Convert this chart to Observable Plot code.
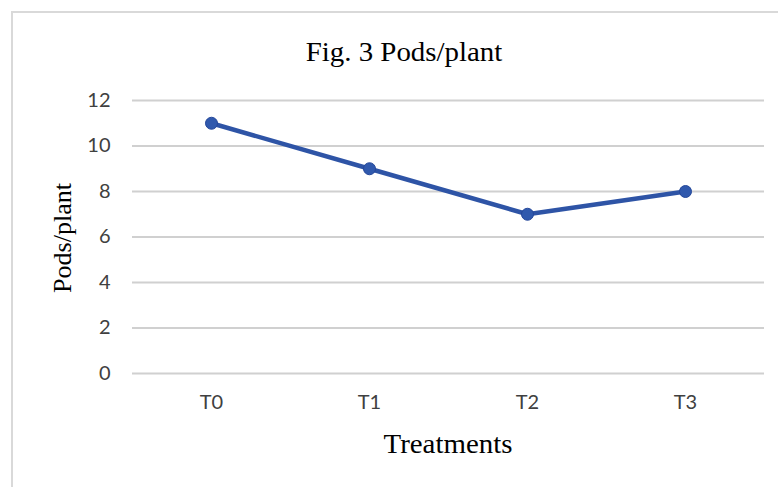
<!DOCTYPE html>
<html>
<head>
<meta charset="utf-8">
<script src="https://cdn.jsdelivr.net/npm/d3@7"></script>
<script src="https://cdn.jsdelivr.net/npm/@observablehq/plot@0.6"></script>
<style>
  html, body { margin: 0; padding: 0; background: #fff; overflow: hidden; }
  #wrap { position: relative; width: 778px; height: 487px; overflow: hidden; }
  #frame { position: absolute; left: 11px; top: 11px; width: 820px; height: 520px; border: 2px solid #d9d9d9; box-sizing: border-box; }
  .lbl { position: absolute; font-family: "Liberation Serif", "Times New Roman", serif; color: #000; white-space: nowrap; line-height: 1; }
  #title { left: 404px; top: 52px; font-size: 27px; transform: translate(-50%, -50%) scaleX(1.07); }
  #xlab { left: 448px; top: 444px; font-size: 27px; transform: translate(-50%, -50%) scaleX(1.07); }
  #ylab { left: 63px; top: 238px; font-size: 26px; transform: translate(-50%, -50%) rotate(-90deg); }
  #chart { position: absolute; left: 0; top: 0; }
</style>
</head>
<body>
<div id="wrap">
  <div id="frame"></div>
  <div id="chart"></div>
  <div class="lbl" id="title">Fig. 3 Pods/plant</div>
  <div class="lbl" id="ylab">Pods/plant</div>
  <div class="lbl" id="xlab">Treatments</div>
</div>
<script>
const treatments = ["T0", "T1", "T2", "T3"];
const podsPerPlant = [11, 9, 7, 8];
const yTicks = [0, 2, 4, 6, 8, 10, 12];

const data = treatments.map((t, i) => ({treatment: t, pods: podsPerPlant[i]}));

const chart = Plot.plot({
  width: 778,
  height: 487,
  marginLeft: 132,
  marginRight: 14,
  marginTop: 100,
  marginBottom: 114,
  style: {background: "transparent", fontFamily: "Lato, 'Open Sans', sans-serif", fontSize: "20px", color: "#404040"},
  x: {type: "point", domain: treatments, padding: 0.5, label: null},
  y: {domain: [0, 12], label: null},
  marks: [
    Plot.ruleY(yTicks, {stroke: "#d0d0d0", strokeWidth: 2}),
    Plot.axisY(yTicks, {tickSize: 0, tickPadding: 22, label: null, fill: "#404040", fontSize: 20}),
    Plot.axisX(treatments, {tickSize: 0, tickPadding: 21, label: null, fill: "#404040", fontSize: 20}),
    Plot.line(data, {x: "treatment", y: "pods", stroke: "#2e54a6", strokeWidth: 4.5, strokeLinejoin: "round"}),
    Plot.dot(data, {x: "treatment", y: "pods", r: 6, fill: "#3059ad", stroke: "#24479a", strokeWidth: 1})
  ]
});
document.getElementById("chart").appendChild(chart);
</script>
</body>
</html>
